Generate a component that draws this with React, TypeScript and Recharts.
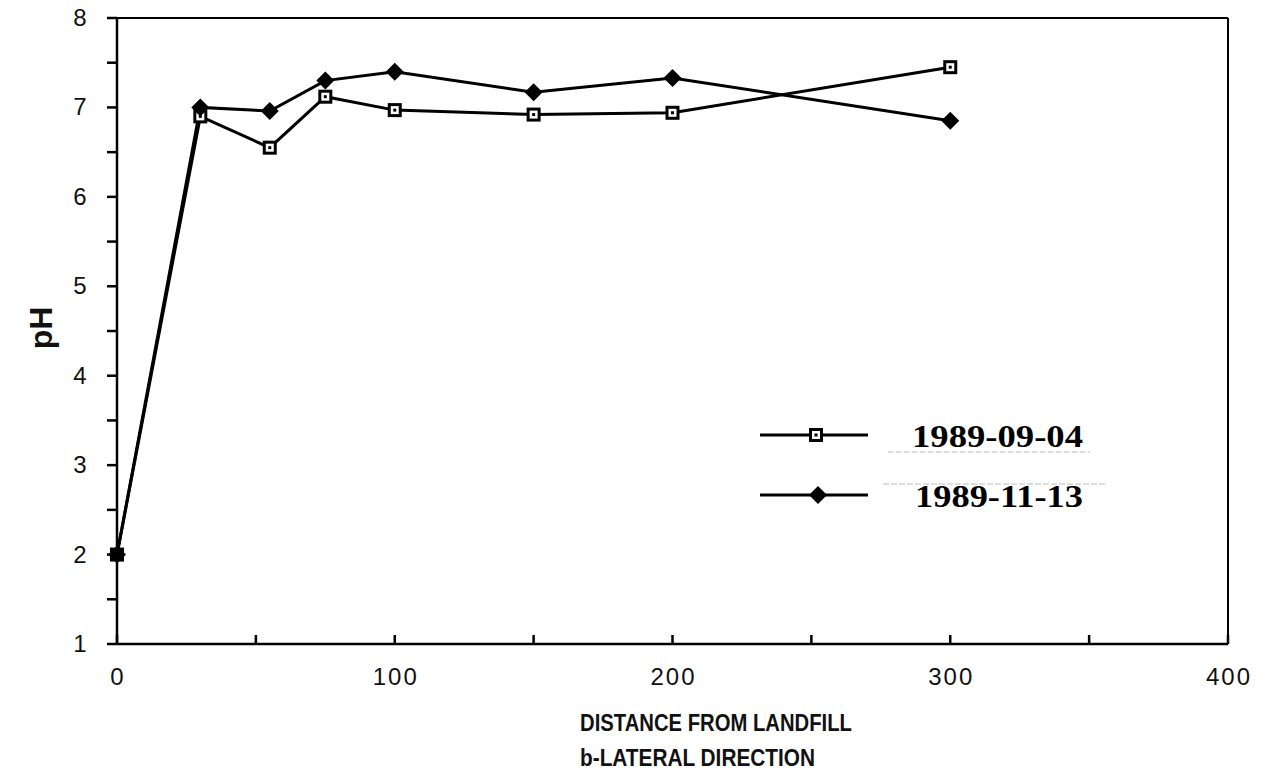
import React from "react";
import { LineChart, Line, XAxis, YAxis, ReferenceLine, Legend } from "recharts";

// pH measured along the lateral direction from the landfill
const distance = [0, 30, 55, 75, 100, 150, 200, 300];
const ph19890904 = [2.0, 6.9, 6.55, 7.12, 6.97, 6.92, 6.94, 7.45];
const ph19891113 = [2.0, 7.0, 6.96, 7.3, 7.4, 7.17, 7.33, 6.85];
const seriesNames = ["1989-09-04", "1989-11-13"];

const xTicks = [0, 50, 100, 150, 200, 250, 300, 350, 400];
const xLabelled = [0, 100, 200, 300, 400];
const yTicks = [1, 1.5, 2, 2.5, 3, 3.5, 4, 4.5, 5, 5.5, 6, 6.5, 7, 7.5, 8];
const xTitle = ["DISTANCE FROM LANDFILL", "b-LATERAL DIRECTION"];
const yTitle = "pH";

const data = distance.map((d, i) => ({ distance: d, s1: ph19890904[i], s2: ph19891113[i] }));

const tickFont = "'Liberation Sans', Arial, sans-serif";
const serif = "'Liberation Serif', 'Times New Roman', serif";

const XTick = (props: any) => {
  const { x, y, payload } = props;
  const v = payload.value;
  return (
    <g>
      <line x1={x} x2={x} y1={y} y2={y - 9} stroke="#000" strokeWidth={2.5} />
      {xLabelled.includes(v) && (
        <text x={x + 1} y={y + 41} textAnchor="middle" fontSize={24} letterSpacing={2} fontFamily={tickFont} fill="#111">
          {v}
        </text>
      )}
    </g>
  );
};

const YTick = (props: any) => {
  const { x, y, payload } = props;
  const v = payload.value;
  return (
    <g>
      <line x1={x} x2={x - 10} y1={y} y2={y} stroke="#000" strokeWidth={2.5} />
      {Number.isInteger(v) && (
        <text x={x - 37} y={y + 8} textAnchor="middle" fontSize={24} fontFamily={tickFont} fill="#111">
          {v}
        </text>
      )}
    </g>
  );
};

const SquareDot = (props: any) => {
  const { cx, cy, index } = props;
  if (cx == null || cy == null) return <g key={index} />;
  return (
    <g key={`sq-${index}`}>
      <rect x={cx - 7} y={cy - 7} width={14} height={14} fill="#000" />
      <rect x={cx - 4} y={cy - 4} width={8} height={8} fill="#fff" />
      <rect x={cx - 1.5} y={cy - 1.5} width={3} height={3} fill="#000" />
    </g>
  );
};

const DiamondDot = (props: any) => {
  const { cx, cy, index } = props;
  if (cx == null || cy == null) return <g key={index} />;
  return (
    <polygon
      key={`dm-${index}`}
      points={`${cx},${cy - 9} ${cx + 9},${cy} ${cx},${cy + 9} ${cx - 9},${cy}`}
      fill="#000"
    />
  );
};

const renderLegend = () => (
  <svg width={420} height={120} style={{ display: "block" }}>
    <line x1={20} x2={128} y1={35} y2={35} stroke="#000" strokeWidth={3} />
    <SquareDot cx={76} cy={35} index={0} />
    <text x={172} y={47} fontSize={32} fontWeight="bold" fontFamily={serif} textLength={171} lengthAdjust="spacingAndGlyphs">
      {seriesNames[0]}
    </text>
    <line x1={148} x2={350} y1={52} y2={52} stroke="#bbb" strokeWidth={1} strokeDasharray="6 2" />
    <line x1={20} x2={128} y1={95} y2={95} stroke="#000" strokeWidth={3} />
    <DiamondDot cx={78} cy={95} index={0} />
    <text x={175} y={107} fontSize={32} fontWeight="bold" fontFamily={serif} textLength={168} lengthAdjust="spacingAndGlyphs">
      {seriesNames[1]}
    </text>
    <line x1={143} x2={365} y1={84} y2={84} stroke="#bbb" strokeWidth={1} strokeDasharray="6 2" />
  </svg>
);

export default function App() {
  return (
    <div style={{ position: "absolute", left: 0, top: 0, width: 1270, height: 773, background: "#fff" }}>
      <LineChart width={1270} height={773} data={data} margin={{ top: 18, right: 42, left: 0, bottom: 0 }}>
        <XAxis
          dataKey="distance"
          type="number"
          domain={[0, 400]}
          ticks={xTicks}
          interval={0}
          height={129}
          tickSize={0}
          tickMargin={0}
          tickLine={false}
          tick={XTick}
          axisLine={{ stroke: "#000", strokeWidth: 2.5 }}
        />
        <YAxis
          type="number"
          domain={[1, 8]}
          ticks={yTicks}
          interval={0}
          width={117}
          tickSize={0}
          tickMargin={0}
          tickLine={false}
          tick={YTick}
          axisLine={{ stroke: "#000", strokeWidth: 2.5 }}
        />
        <ReferenceLine y={8} stroke="#000" strokeWidth={2} />
        <ReferenceLine x={400} stroke="#000" strokeWidth={2} />
        <Line
          dataKey="s1"
          name={seriesNames[0]}
          type="linear"
          stroke="#000"
          strokeWidth={3}
          dot={SquareDot}
          activeDot={false}
          isAnimationActive={false}
        />
        <Line
          dataKey="s2"
          name={seriesNames[1]}
          type="linear"
          stroke="#000"
          strokeWidth={3}
          dot={DiamondDot}
          activeDot={false}
          isAnimationActive={false}
        />
        <Legend
          layout="horizontal"
          verticalAlign="middle"
          align="center"
          content={renderLegend}
          wrapperStyle={{ position: "absolute", left: 740, top: 400, width: 420, height: 120 }}
        />
      </LineChart>
      <svg width={1270} height={773} style={{ position: "absolute", left: 0, top: 0, pointerEvents: "none" }}>
        <text
          x={0}
          y={0}
          transform="translate(52,328) rotate(-90)"
          textAnchor="middle"
          fontSize={32}
          fontWeight="bold"
          fontFamily={tickFont}
          fill="#111"
        >
          {yTitle}
        </text>
        <text x={580} y={731} fontSize={24} fontWeight="bold" fontFamily="'Liberation Sans Narrow', 'Liberation Sans', Arial, sans-serif" textLength={272} lengthAdjust="spacingAndGlyphs" fill="#111">
          {xTitle[0]}
        </text>
        <text x={580} y={766} fontSize={24} fontWeight="bold" fontFamily="'Liberation Sans Narrow', 'Liberation Sans', Arial, sans-serif" textLength={235} lengthAdjust="spacingAndGlyphs" fill="#111">
          {xTitle[1]}
        </text>
      </svg>
    </div>
  );
}
